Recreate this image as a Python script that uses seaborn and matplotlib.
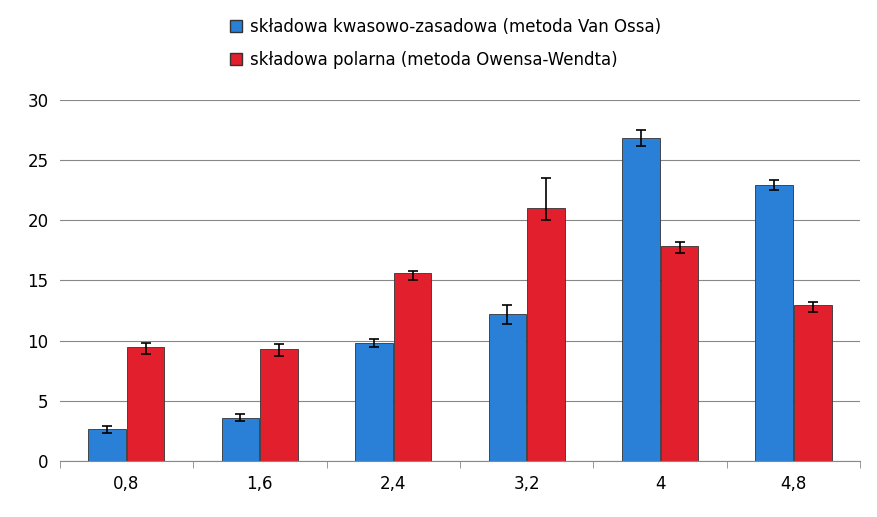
import numpy as np
import pandas as pd
import matplotlib
matplotlib.use("Agg")
import matplotlib.pyplot as plt
from matplotlib.patches import Patch
import seaborn as sns

categories = ["0,8", "1,6", "2,4", "3,2", "4", "4,8"]
blue_vals = [2.65, 3.6, 9.8, 12.2, 26.8, 22.9]
blue_err_lo = [0.3, 0.3, 0.3, 0.8, 0.6, 0.4]
blue_err_hi = [0.3, 0.3, 0.3, 0.8, 0.7, 0.4]
red_vals = [9.5, 9.3, 15.6, 21.0, 17.9, 13.0]
red_err_lo = [0.6, 0.6, 0.6, 1.0, 0.6, 0.6]
red_err_hi = [0.3, 0.4, 0.2, 2.5, 0.3, 0.2]
series = ["składowa kwasowo-zasadowa (metoda Van Ossa)",
          "składowa polarna (metoda Owensa-Wendta)"]
colors = ["#2a80d6", "#e21f2c"]

df = pd.DataFrame({
    "cat": categories * 2,
    "val": blue_vals + red_vals,
    "series": [series[0]] * 6 + [series[1]] * 6,
})

plt.rcParams["font.family"] = "DejaVu Sans"
fig, ax = plt.subplots(figsize=(8.77, 5.17), dpi=100)
fig.subplots_adjust(left=0.068, right=0.981, top=0.807, bottom=0.108)

sns.barplot(data=df, x="cat", y="val", hue="series", ax=ax,
            palette=colors, saturation=1, width=0.58, gap=0.03,
            edgecolor="#333333", linewidth=0.6, errorbar=None, legend=False)

bars_b = ax.patches[:6]
bars_r = ax.patches[6:12]
for bars, vals, lo, hi in [(bars_b, blue_vals, blue_err_lo, blue_err_hi),
                           (bars_r, red_vals, red_err_lo, red_err_hi)]:
    xs = [b.get_x() + b.get_width() / 2 for b in bars]
    ax.errorbar(xs, vals, yerr=[lo, hi], fmt="none", ecolor="black",
                elinewidth=1.2, capsize=3.5, capthick=1.2)

ax.set_ylim(0, 30)
ax.set_yticks(range(0, 31, 5))
ax.yaxis.grid(True, color="#888888", linewidth=0.8)
ax.set_axisbelow(True)
ax.set_xlabel("")
ax.set_ylabel("")
for s in ["top", "right", "left"]:
    ax.spines[s].set_visible(False)
ax.spines["bottom"].set_color("#888888")
ax.tick_params(axis="y", length=0, labelsize=12, pad=8)
ax.tick_params(axis="x", length=0, labelsize=12, pad=10)
ax.set_xticks(np.arange(-0.5, 6, 1), minor=True)
ax.tick_params(axis="x", which="minor", length=5, color="#888888")
ax.set_xlim(-0.5, 5.5)

handles = [Patch(facecolor=c, edgecolor="#333333") for c in colors]
fig.legend(handles, series, loc="upper left", bbox_to_anchor=(0.245, 0.995),
           frameon=False, fontsize=12, handlelength=0.7, handleheight=0.7,
           labelspacing=0.9, handletextpad=0.5)

fig.savefig("out.png", dpi=100)
